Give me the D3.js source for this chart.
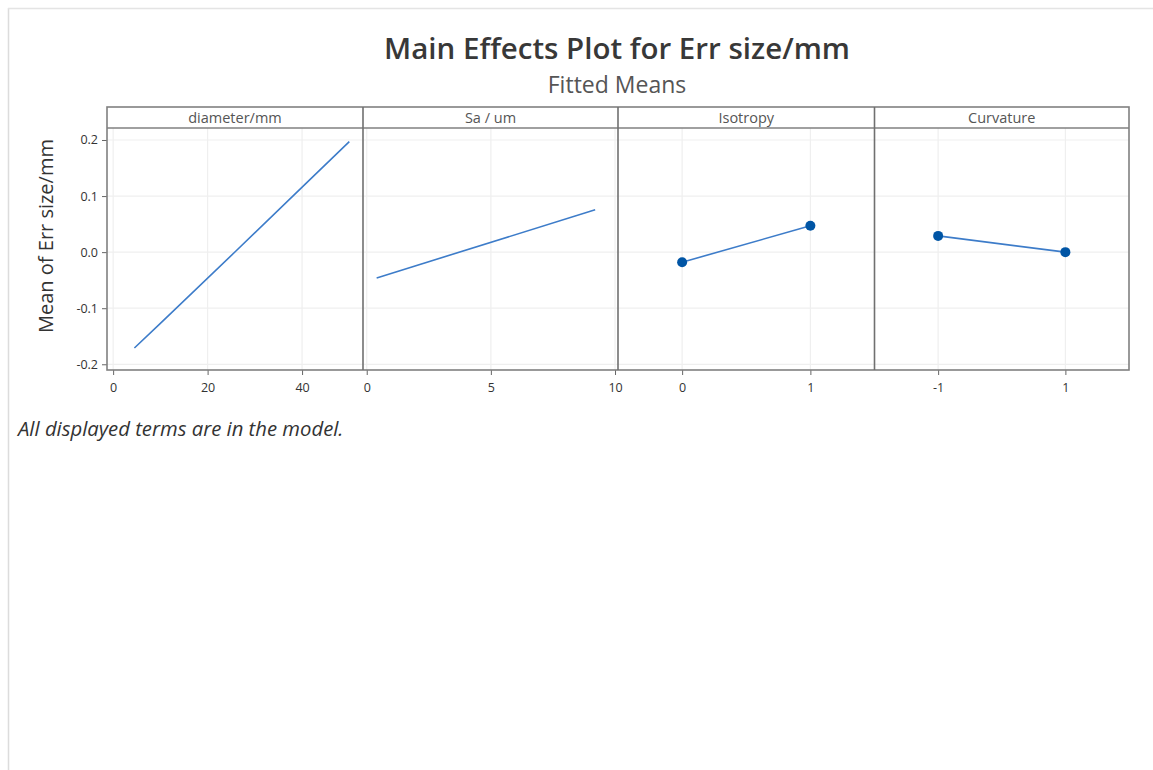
<!DOCTYPE html>
<html>
<head>
<meta charset="utf-8">
<script src="https://cdn.jsdelivr.net/npm/d3@7"></script>
<style>
  html, body { margin: 0; padding: 0; background: #fff; }
  svg { display: block; }
</style>
</head>
<body>
<svg id="chart" width="1153" height="770"></svg>
<script>
// Factor names shown in the strip headers
const factors = ["diameter/mm", "Sa / um", "Isotropy", "Curvature"];

// Fitted means for each factor
const diameterX = [4.5, 10, 26, 41, 50];
const diameterY = [-0.171, -0.127, 0.002, 0.124, 0.197];
const saX = [0.4, 9.2];
const saY = [-0.046, 0.0755];
const isotropyLevels = [0, 1];
const isotropyMeans = [-0.018, 0.047];
const curvatureLevels = [-1, 1];
const curvatureMeans = [0.029, 0.0];

// Axis ticks
const yTicks = [-0.2, -0.1, 0.0, 0.1, 0.2];
const diameterTicks = [0, 20, 40];
const saTicks = [0, 5, 10];
const isotropyTicks = [0, 1];
const curvatureTicks = [-1, 1];

const panels = [
  { name: factors[0], xs: diameterX, ys: diameterY, ticks: diameterTicks, domain: [-1.3, 52.9], markers: false },
  { name: factors[1], xs: saX, ys: saY, ticks: saTicks, domain: [-0.15, 10.12], markers: false },
  { name: factors[2], xs: isotropyLevels, ys: isotropyMeans, ticks: isotropyTicks, domain: [-0.5, 1.5], markers: true },
  { name: factors[3], xs: curvatureLevels, ys: curvatureMeans, ticks: curvatureTicks, domain: [-2, 2], markers: true }
];

const svg = d3.select("#chart");
const font = "'Open Sans', 'Noto Sans', sans-serif";
// plain hyphen for negative numbers
const hyphen = f => d => f(d).replace("\u2212", "-");

// page frame
svg.append("line").attr("x1", 8.5).attr("x2", 8.5).attr("y1", 8).attr("y2", 770)
  .attr("stroke", "#dcdcdc").attr("stroke-width", 1.5);
svg.append("line").attr("x1", 8).attr("x2", 1153).attr("y1", 8.5).attr("y2", 8.5)
  .attr("stroke", "#e4e4e4").attr("stroke-width", 1.5);

// titles
svg.append("text").attr("x", 617).attr("y", 59).attr("text-anchor", "middle")
  .attr("font-family", font).attr("font-weight", 600).attr("font-size", 29.5)
  .attr("fill", "#383838").text("Main Effects Plot for Err size/mm");
svg.append("text").attr("x", 617).attr("y", 93).attr("text-anchor", "middle")
  .attr("font-family", font).attr("font-size", 23)
  .attr("fill", "#555").text("Fitted Means");

const plotLeft = 107, plotRight = 1129, plotTop = 107, stripBottom = 128, plotBottom = 370;
const edges = [107, 363, 618, 874.5, 1129];

const y = d3.scaleLinear().domain([-0.2102, 0.2214]).range([plotBottom, stripBottom]);

// y gridlines across all panels
const gridG = svg.append("g");
gridG.selectAll("line.hy").data(yTicks).join("line")
  .attr("x1", plotLeft).attr("x2", plotRight)
  .attr("y1", d => y(d)).attr("y2", d => y(d))
  .attr("stroke", "#efefef").attr("stroke-width", 1.2);

// y axis
const yAxis = d3.axisLeft(y).tickValues(yTicks).tickSize(5).tickPadding(4)
  .tickFormat(hyphen(d3.format(".1f")));
const yg = svg.append("g").attr("transform", `translate(${plotLeft},0)`).call(yAxis);
yg.select(".domain").remove();
yg.selectAll("line").attr("stroke", "#666");
yg.selectAll("text").attr("font-family", font).attr("font-size", 12.5).attr("fill", "#333");

// y label
svg.append("text").attr("transform", "translate(53,236) rotate(-90)")
  .attr("text-anchor", "middle").attr("font-family", font).attr("font-size", 20)
  .attr("fill", "#333").text("Mean of Err size/mm");

const lineGen = d3.line();

panels.forEach((p, i) => {
  const x0 = edges[i], x1 = edges[i + 1];
  const x = d3.scaleLinear().domain(p.domain).range([x0, x1]);
  const g = svg.append("g");

  // vertical gridlines
  g.selectAll("line.vx").data(p.ticks).join("line")
    .attr("x1", d => x(d)).attr("x2", d => x(d))
    .attr("y1", stripBottom).attr("y2", plotBottom)
    .attr("stroke", "#efefef").attr("stroke-width", 1.2);

  // x axis
  const xAxis = d3.axisBottom(x).tickValues(p.ticks).tickSize(5).tickPadding(8)
    .tickFormat(hyphen(d3.format("d")));
  const xg = svg.append("g").attr("transform", `translate(0,${plotBottom})`).call(xAxis);
  xg.select(".domain").remove();
  xg.selectAll("line").attr("stroke", "#666");
  xg.selectAll("text").attr("font-family", font).attr("font-size", 12.5).attr("fill", "#333");

  // fitted means line
  const pts = p.xs.map((v, k) => [x(v), y(p.ys[k])]);
  g.append("path").attr("d", lineGen(pts)).attr("fill", "none")
    .attr("stroke", "#3d7cc9").attr("stroke-width", 1.6);
  if (p.markers) {
    g.selectAll("circle").data(pts).join("circle")
      .attr("cx", d => d[0]).attr("cy", d => d[1]).attr("r", 5)
      .attr("fill", "#0055a5");
  }

  // strip header
  svg.append("text").attr("x", (x0 + x1) / 2).attr("y", 123).attr("text-anchor", "middle")
    .attr("font-family", font).attr("font-size", 14.5).attr("fill", "#555").text(p.name);
});

// frames
const frame = svg.append("g").attr("fill", "none").attr("stroke", "#808080").attr("stroke-width", 1.6);
frame.append("rect").attr("x", plotLeft).attr("y", plotTop).attr("width", plotRight - plotLeft).attr("height", plotBottom - plotTop);
frame.append("line").attr("x1", plotLeft).attr("x2", plotRight).attr("y1", stripBottom).attr("y2", stripBottom);
edges.slice(1, 4).forEach(e => {
  frame.append("line").attr("x1", e).attr("x2", e).attr("y1", plotTop).attr("y2", plotBottom).attr("stroke", "#707070");
});

// footnote
svg.append("text").attr("x", 18).attr("y", 436).attr("font-family", font)
  .attr("font-style", "italic").attr("font-size", 20.3).attr("fill", "#333")
  .text("All displayed terms are in the model.");
</script>
</body>
</html>
